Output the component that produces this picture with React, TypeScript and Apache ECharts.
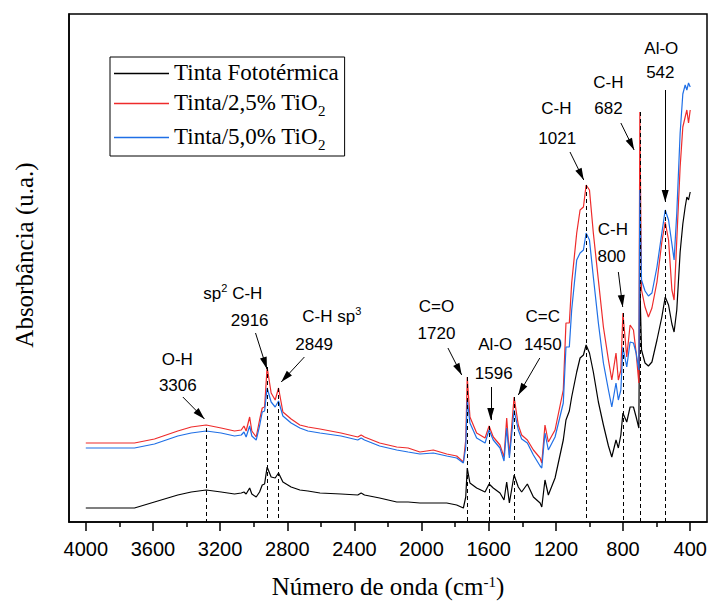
import React, { useEffect, useRef } from "react";
import * as echarts from "echarts";

// Wavenumber (cm-1) sampling points
const wavenumbers = [
  4000, 3850, 3710, 3591, 3452, 3372, 3283, 3194, 3114, 3074,
  3058, 3045, 3024, 3011, 2985, 2965, 2949, 2935, 2920, 2896,
  2872, 2852, 2826, 2777, 2725, 2677, 2605, 2480, 2380, 2360,
  2340, 2250, 2148, 2080, 2010, 1930, 1850, 1791, 1751, 1737,
  1728, 1712, 1672, 1622, 1598, 1573, 1533, 1509, 1493, 1477,
  1449, 1424, 1404, 1370, 1334, 1294, 1284, 1265, 1245, 1205,
  1156, 1140, 1120, 1106, 1076, 1056, 1036, 1020, 1000, 977,
  947, 917, 887, 867, 842, 828, 813, 801, 778, 758,
  738, 722, 706, 700, 690, 669, 649, 628, 598, 569,
  549, 529, 509, 496, 480, 460, 444, 430, 420, 410, 400,
];

// Absorbance (u.a.)
const tintaFototermica = [
  0.14, 0.14, 0.14, 0.2, 0.27, 0.3, 0.32, 0.3, 0.28, 0.29,
  0.3, 0.28, 0.34, 0.28, 0.25, 0.3, 0.37, 0.38, 0.55, 0.45,
  0.44, 0.49, 0.4, 0.35, 0.32, 0.31, 0.29, 0.28, 0.27, 0.29,
  0.27, 0.24, 0.2, 0.2, 0.19, 0.19, 0.19, 0.17, 0.14, 0.25,
  0.54, 0.39, 0.34, 0.3, 0.38, 0.34, 0.29, 0.22, 0.4, 0.19,
  0.47, 0.35, 0.3, 0.38, 0.25, 0.19, 0.15, 0.42, 0.27, 0.44,
  0.82, 1.02, 1.11, 1.25, 1.5, 1.64, 1.67, 1.77, 1.69, 1.5,
  1.2, 0.97, 0.76, 0.65, 0.82, 0.74, 0.87, 1.09, 1.0, 1.15,
  1.15, 1.05, 0.94, 2.39, 1.72, 1.59, 1.56, 1.6, 1.82, 2.05,
  2.25, 2.17, 1.98, 1.9, 2.12, 2.7, 2.98, 3.15, 3.25, 3.22, 3.3,
];

const tinta25TiO2 = [
  0.79, 0.79, 0.79, 0.83, 0.91, 0.95, 0.97, 0.94, 0.91, 0.92,
  0.96, 0.91, 1.05, 0.91, 0.85, 1.02, 1.14, 1.15, 1.55, 1.29,
  1.22, 1.34, 1.1, 1.03, 0.97, 0.95, 0.93, 0.89, 0.85, 0.87,
  0.85, 0.79, 0.75, 0.74, 0.7, 0.72, 0.68, 0.66, 0.6, 0.82,
  1.45, 1.05, 0.89, 0.84, 0.96, 0.85, 0.77, 0.65, 1.04, 0.67,
  1.25, 0.97, 0.87, 0.82, 0.72, 0.64, 0.59, 0.97, 0.8, 0.92,
  1.32, 1.99, 1.99, 2.39, 2.89, 3.12, 3.15, 3.37, 3.32, 2.89,
  2.42, 1.95, 1.62, 1.42, 1.69, 1.42, 1.52, 2.09, 1.65, 1.97,
  1.92, 1.69, 1.39, 4.1, 2.32, 2.15, 2.05, 2.14, 2.4, 2.8,
  3.0, 2.82, 2.32, 2.22, 2.82, 3.55, 3.95, 4.05, 4.12, 3.99, 4.12,
];

const tinta50TiO2 = [
  0.74, 0.74, 0.74, 0.78, 0.86, 0.89, 0.91, 0.89, 0.86, 0.87,
  0.9, 0.85, 0.96, 0.86, 0.82, 0.96, 1.1, 1.11, 1.34, 1.2,
  1.15, 1.21, 1.06, 0.99, 0.94, 0.91, 0.89, 0.86, 0.82, 0.84,
  0.82, 0.76, 0.72, 0.7, 0.68, 0.69, 0.66, 0.64, 0.59, 0.75,
  1.22, 0.99, 0.84, 0.79, 0.92, 0.82, 0.74, 0.61, 0.94, 0.64,
  1.12, 0.92, 0.83, 0.79, 0.67, 0.56, 0.54, 0.89, 0.72, 0.85,
  1.19, 1.75, 1.75, 2.12, 2.62, 2.69, 2.72, 2.89, 2.82, 2.45,
  1.99, 1.59, 1.32, 1.15, 1.39, 1.22, 1.32, 1.75, 1.55, 1.8,
  1.79, 1.69, 1.52, 3.32, 2.42, 2.31, 2.26, 2.29, 2.55, 2.89,
  3.12, 3.02, 2.78, 2.62, 3.09, 3.89, 4.28, 4.37, 4.32, 4.39, 4.35,
];

const seriesNames = ["Tinta Fototérmica", "Tinta/2,5% TiO2", "Tinta/5,0% TiO2"];

const majorTicks = [4000, 3600, 3200, 2800, 2400, 2000, 1600, 1200, 800, 400];
const minorTicks = [3800, 3400, 3000, 2600, 2200, 1800, 1400, 1000, 600];

// Dashed guide lines: [wavenumber, top absorbance]
const guideLines: [number, number][] = [
  [3285, 0.94], [2920, 1.55], [2852, 1.34], [1728, 1.45], [1598, 0.96],
  [1449, 1.25], [1020, 3.37], [801, 2.09], [700, 4.1], [549, 3.12],
];

// Arrows: [from wn, from abs, to wn, to abs]
const arrows: [number, number, number, number][] = [
  [3422, 1.25, 3293, 1.03],
  [2989, 1.89, 2921, 1.53],
  [2698, 1.65, 2836, 1.4],
  [1843, 1.74, 1761, 1.47],
  [1588, 1.35, 1588, 1.02],
  [1296, 1.64, 1424, 1.27],
  [1116, 3.7, 1034, 3.42],
  [828, 2.5, 802, 2.15],
  [813, 3.99, 734, 3.72],
  [549, 4.32, 549, 3.2],
];

// Annotation texts: [wn, abs, text]
const annotations: [number, number, string][] = [
  [3455, 1.64, "{a|O-H}"],
  [3452, 1.38, "{a|3306}"],
  [3124, 2.3, "{a|sp}{s|2}{a| C-H}"],
  [3024, 2.03, "{a|2916}"],
  [2535, 2.07, "{a|C-H sp}{s|3}"],
  [2640, 1.79, "{a|2849}"],
  [1911, 2.17, "{a|C=O}"],
  [1911, 1.9, "{a|1720}"],
  [1561, 1.79, "{a|Al-O}"],
  [1570, 1.5, "{a|1596}"],
  [1278, 2.07, "{a|C=C}"],
  [1278, 1.79, "{a|1450}"],
  [1197, 4.15, "{a|C-H}"],
  [1192, 3.85, "{a|1021}"],
  [887, 4.41, "{a|C-H}"],
  [887, 4.15, "{a|682}"],
  [572, 4.75, "{a|Al-O}"],
  [578, 4.51, "{a|542}"],
  [861, 2.94, "{a|C-H}"],
  [868, 2.67, "{a|800}"],
];

const ARROW = "path://M12,12L15.5,24L8.5,24Z M0,0L0.01,0.01 M24,0L23.99,0.01";

export default function App() {
  const ref = useRef<HTMLDivElement>(null);

  useEffect(() => {
    if (!ref.current) return;
    const chart = echarts.init(ref.current, undefined, { renderer: "svg" });

    const mk = (vals: number[]) => wavenumbers.map((w, i) => [w, vals[i]]);
    const colors = ["#000000", "#ee2b2b", "#1f6fe6"];

    const markLineData: any[] = [];
    guideLines.forEach(([w, top]) => {
      markLineData.push([
        { coord: [w, top], symbol: "none", lineStyle: { type: [4, 3], width: 1, color: "#000" } },
        { coord: [w, 0], symbol: "none" },
      ]);
    });
    arrows.forEach(([w1, a1, w2, a2]) => {
      markLineData.push([
        { coord: [w1, a1], symbol: "none", lineStyle: { type: "solid", width: 1, color: "#000" } },
        { coord: [w2, a2], symbol: ARROW, symbolSize: 24 },
      ]);
    });

    const annotationFont = "'Liberation Sans', Arial, sans-serif";
    const serif = "'Liberation Serif', 'Times New Roman', serif";

    const option: any = {
      animation: false,
      grid: {
        left: 69,
        right: 2,
        top: 14,
        bottom: 79,
        show: true,
        borderColor: "#000",
        borderWidth: 1.5,
        backgroundColor: "transparent",
        outerBoundsMode: "none",
        containLabel: false,
      },
      legend: {
        data: seriesNames,
        orient: "vertical",
        left: 110,
        top: 57,
        icon: "rect",
        itemWidth: 55,
        itemHeight: 1.5,
        itemGap: 7,
        borderColor: "#000",
        borderWidth: 1,
        padding: [4, 6, 4, 4],
        textStyle: {
          color: "#000",
          fontFamily: serif,
          fontSize: 23,
          rich: {
            n: { fontSize: 23, fontFamily: serif, color: "#000", verticalAlign: "top", lineHeight: 25 },
            s: { fontSize: 15, fontFamily: serif, color: "#000", verticalAlign: "top", lineHeight: 15, padding: [12, 0, 0, 0] },
          },
        },
        formatter: (name: string) =>
          name.endsWith("TiO2") ? `{n|${name.slice(0, -1)}}{s|2}` : `{n|${name}}`,
      },
      xAxis: [
        {
          type: "value",
          min: 300,
          max: 4100,
          inverse: true,
          position: "bottom",
          axisLine: { show: true, onZero: false, lineStyle: { color: "#000", width: 1.5 } },
          axisTick: { show: true, inside: false, length: 9, customValues: majorTicks, lineStyle: { color: "#000", width: 1.5 } },
          axisLabel: {
            customValues: majorTicks,
            formatter: (v: number) => String(v),
            color: "#000",
            fontSize: 20,
            fontFamily: annotationFont,
            margin: 17,
          },
          splitLine: { show: false },
          name: "{n|Número de onda (cm}{s|-1}{n|)}",
          nameLocation: "middle",
          nameGap: 52,
          nameTextStyle: {
            rich: {
              n: { fontSize: 25, fontFamily: serif, color: "#000", verticalAlign: "bottom", lineHeight: 25 },
              s: { fontSize: 15, fontFamily: serif, color: "#000", verticalAlign: "top", lineHeight: 15 },
            },
          },
        },
        {
          type: "value",
          min: 300,
          max: 4100,
          inverse: true,
          position: "bottom",
          axisLine: { show: false },
          axisTick: { show: true, inside: false, length: 5, customValues: minorTicks, lineStyle: { color: "#000", width: 1.5 } },
          axisLabel: { show: false },
          splitLine: { show: false },
        },
      ],
      yAxis: {
        type: "value",
        min: 0,
        max: 5.08,
        axisLine: { show: true, lineStyle: { color: "#000", width: 1.5 } },
        axisTick: { show: false },
        axisLabel: { show: false },
        splitLine: { show: false },
        name: "Absorbância (u.a.)",
        nameLocation: "middle",
        nameGap: 32,
        nameTextStyle: {
          fontSize: 25,
          fontFamily: serif,
          color: "#000",
          padding: [0, 0, 0, 26],
        },
      },
      series: [
        {
          name: seriesNames[0],
          type: "line",
          data: mk(tintaFototermica),
          showSymbol: false,
          color: colors[0],
          lineStyle: { width: 1.2, color: colors[0] },
          markLine: {
            silent: true,
            symbol: ["none", "none"],
            label: { show: false },
            emphasis: { disabled: true },
            data: markLineData,
          },
        },
        {
          name: seriesNames[1],
          type: "line",
          data: mk(tinta25TiO2),
          showSymbol: false,
          color: colors[1],
          lineStyle: { width: 1.2, color: colors[1] },
        },
        {
          name: seriesNames[2],
          type: "line",
          data: mk(tinta50TiO2),
          showSymbol: false,
          color: colors[2],
          lineStyle: { width: 1.2, color: colors[2] },
          markPoint: {
            silent: true,
            symbol: "circle",
            symbolSize: 0,
            label: {
              show: true,
              position: "inside",
              color: "#000",
              rich: {
                a: { fontSize: 17, fontFamily: annotationFont, color: "#000", verticalAlign: "bottom", lineHeight: 20 },
                s: { fontSize: 11, fontFamily: annotationFont, color: "#000", verticalAlign: "top", lineHeight: 11 },
              },
            },
            data: annotations.map(([w, a, t]) => ({
              coord: [w, a],
              value: 0,
              label: { formatter: t },
            })),
          },
        },
      ],
    };

    chart.setOption(option);
    return () => chart.dispose();
  }, []);

  return (
    <div
      ref={ref}
      style={{ position: "absolute", left: 0, top: 0, width: 709, height: 601 }}
    />
  );
}
